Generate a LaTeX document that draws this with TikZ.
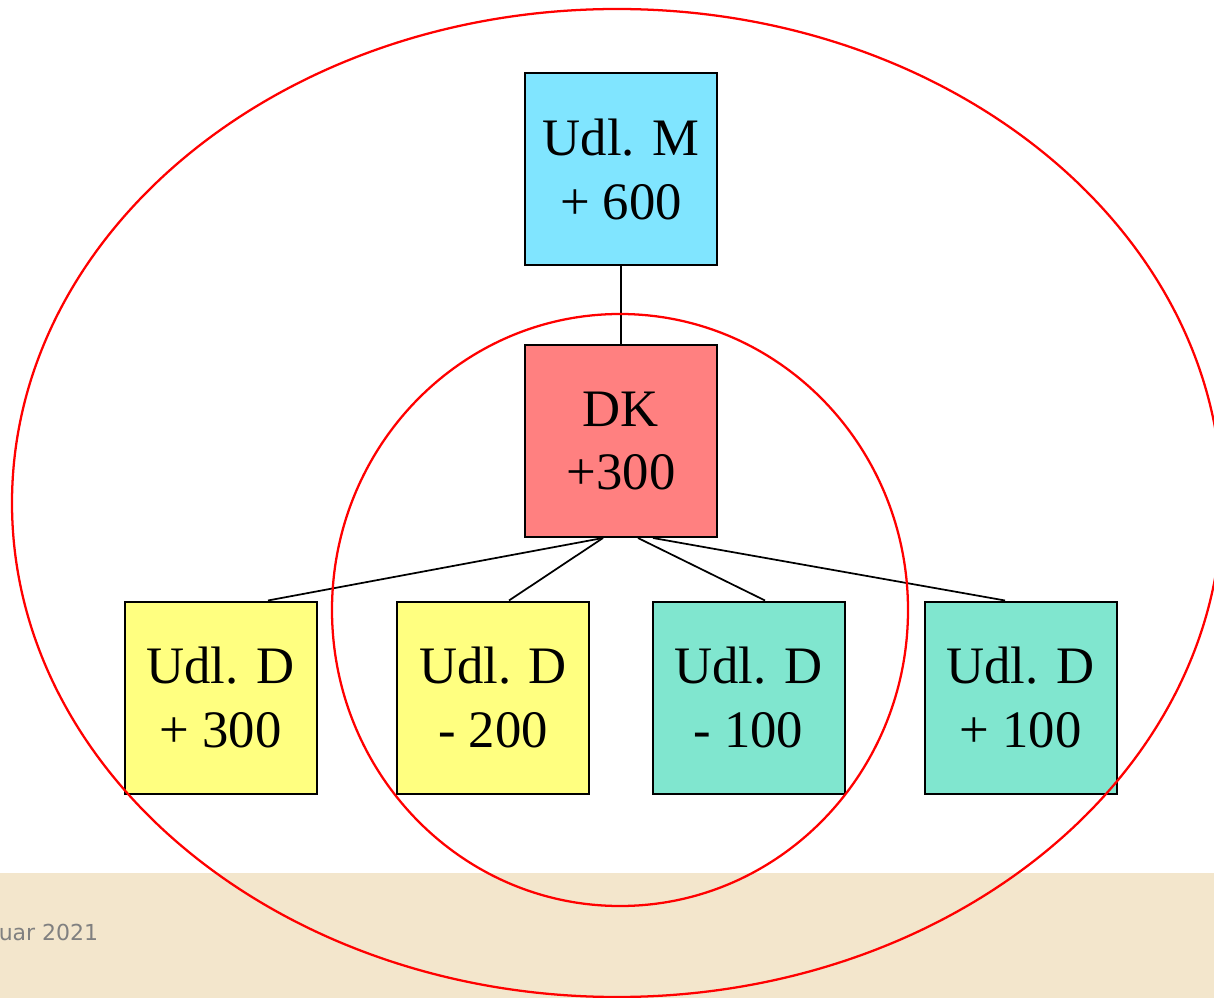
\documentclass[tikz,border=0pt]{standalone}
\usepackage{fontspec}
\setmainfont{Liberation Serif}
\newfontfamily\footfont{DejaVu Sans}
\usetikzlibrary{positioning}

\definecolor{cyanbox}{RGB}{128,229,255}
\definecolor{redbox}{RGB}{255,128,128}
\definecolor{yellowbox}{RGB}{255,255,128}
\definecolor{tealbox}{RGB}{128,230,207}
\definecolor{footbeige}{RGB}{243,230,204}

\tikzset{
    unitbox/.style={shape=rectangle,draw=black,line width=1.5pt,minimum width=144pt,minimum height=144pt,inner sep=0pt,align=center,font=\fontsize{39.5}{47.5}\selectfont},
    edge/.style={draw=black,line width=1.3pt},
    ring/.style={draw=red,line width=1.7pt}
}

\begin{document}
\begin{tikzpicture}[x=0.75pt,y=-0.75pt]
    \useasboundingbox (0,0) rectangle (1214,998);
    % Footer band
    \fill[footbeige] (0,873) rectangle (1214,998);
    \node[anchor=east,inner sep=0pt,text=black!50,font=\footfont\fontsize{16.5}{19}\selectfont] (date) at (98.5,932) {uar 2021};
    % Define nodes
    \node[unitbox,fill=cyanbox] (m) at (621,169.5) {Udl. M\\+ 600};
    \node[unitbox,fill=redbox] (dk) at (621,441) {DK\\+300};
    \node[unitbox,fill=yellowbox] (d1) at (220.5,697.5) {Udl. D\\+ 300};
    \node[unitbox,fill=yellowbox] (d2) at (493,697.5) {Udl. D\\- 200};
    \node[unitbox,fill=tealbox] (d3) at (748.5,697.5) {Udl. D\\- 100};
    \node[unitbox,fill=tealbox] (d4) at (1020.5,697.5) {Udl. D\\+ 100};
    % Draw edges
    \draw[edge] (m.south) -- (dk.north);
    \draw[edge] ([xshift=-13.5pt]dk.south) -- ([xshift=35.6pt]d1.north);
    \draw[edge] ([xshift=-13.5pt]dk.south) -- ([xshift=12pt]d2.north);
    \draw[edge] ([xshift=12.75pt]dk.south) -- ([xshift=12.4pt]d3.north);
    \draw[edge] ([xshift=24pt]dk.south) -- ([xshift=-11.6pt]d4.north);
    % Rings
    \draw[ring] (617,503) ellipse [x radius=605,y radius=494];
    \draw[ring] (620,610) ellipse [x radius=288,y radius=296];
\end{tikzpicture}
\end{document}
